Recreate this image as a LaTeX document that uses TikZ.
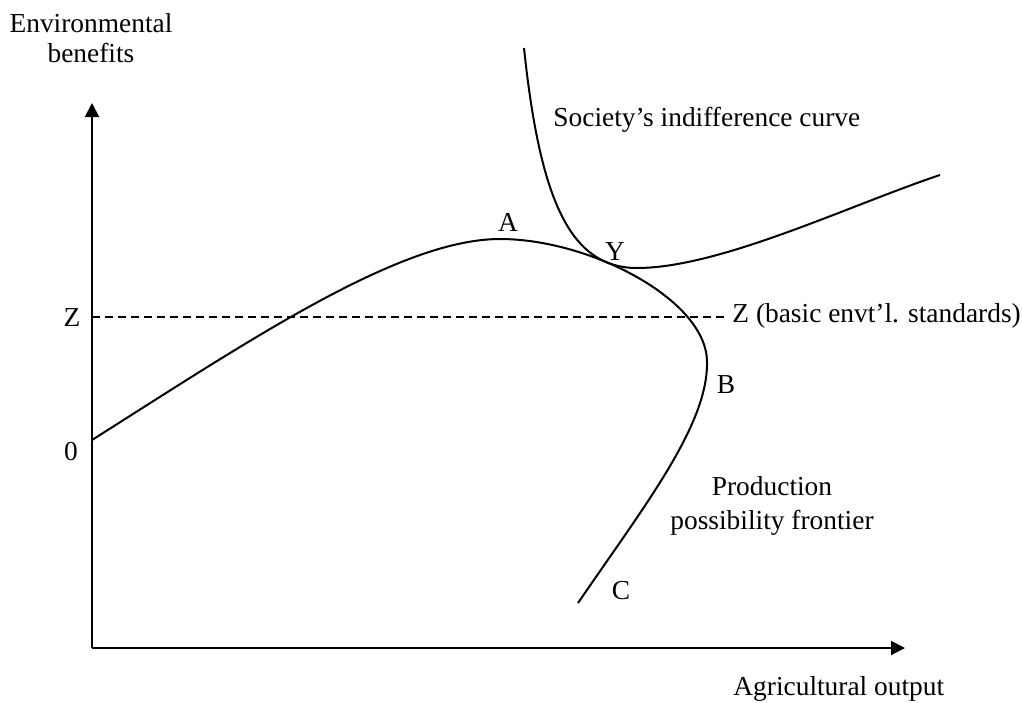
\documentclass[tikz,border=0pt]{standalone}
\usepackage{fontspec}
\setmainfont{Liberation Serif}
\usepackage{tikz}
\usetikzlibrary{arrows.meta,positioning}

\begin{document}
\begin{tikzpicture}[
    x=0.5pt, y=-0.5pt,
    axis/.style={line width=1pt, -{Triangle[length=7pt, width=7pt]}},
    curve/.style={line width=1pt, line join=round},
    zline/.style={line width=0.8pt, dash pattern=on 4pt off 2.5pt},
    lbl/.style={font=\fontsize{13.7}{15}\selectfont, inner sep=1pt}
]
\useasboundingbox (0,0) rectangle (1022,702);

% axes
\coordinate (O)    at (92,648);
\coordinate (ytop) at (92,103);
\coordinate (xend) at (905,648);
\draw[axis] (O) -- (ytop);
\draw[axis] (O) -- (xend);
\node[lbl, align=center] (ylab) at (91,38) {Environmental\\benefits};
\node[lbl, anchor=west]  (xlab) at (731,689) {Agricultural output};

% basic standards line
\coordinate (zleft)  at (92,317);
\coordinate (zright) at (727,317);
\draw[zline] (zleft) -- (zright);
\node[lbl] (zl)  at (72,318) {Z};
\node[lbl, anchor=west] (zr) at (730,316) {Z (basic envt'l. standards)};
\node[lbl] (zero) at (71,452) {0};

% production possibility frontier
\coordinate (p0) at (92,440);
\coordinate (pA) at (500,239);
\coordinate (pB) at (707,362);
\coordinate (pC) at (578,603);
\draw[curve] (p0) .. controls (250,340) and (400,239) .. (pA)
                  .. controls (590,239) and (707,300) .. (pB)
                  .. controls (708,425) and (645,505) .. (pC);

% society's indifference curve
\coordinate (i0) at (524,48);
\coordinate (iY) at (637,268);
\coordinate (i1) at (940,175);
\draw[curve] (i0) .. controls (540,200) and (570,268) .. (iY)
                  .. controls (720,268) and (850,205) .. (i1);

% labels
\node[lbl] (A) at (508,222) {A};
\node[lbl] (Y) at (615,252) {Y};
\node[lbl] (B) at (726,385) {B};
\node[lbl] (C) at (621,591) {C};
\node[lbl, anchor=west] (ic)  at (551,120) {Society's indifference curve};
\node[lbl, align=center] (ppf) at (772,506) {Production\\[2pt]possibility frontier};
\end{tikzpicture}
\end{document}
